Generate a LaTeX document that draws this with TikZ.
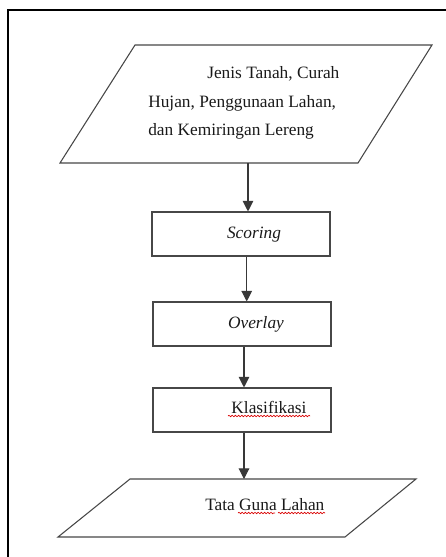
\documentclass[tikz,border=0pt]{standalone}
\usepackage{fontspec}
\setmainfont{Liberation Serif}
\usetikzlibrary{arrows.meta,decorations.pathmorphing}
\begin{document}
\begin{tikzpicture}[x=0.75pt,y=-0.75pt,
  shape line/.style={draw=black!72, line width=0.8pt},
  box/.style={shape line, rectangle, minimum width=133.5pt, minimum height=33pt, inner sep=0pt},
  lbl/.style={text=black!90, font=\fontsize{13}{15}\selectfont, inner sep=0pt, anchor=base},
  lblw/.style={lbl, anchor=base west},
  flow/.style={draw=black!78, line width=0.8pt, -{Triangle[width=8pt,length=8pt]}},
  spell/.style={draw=red!85!black, line width=0.5pt, decorate,
    decoration={snake, amplitude=0.55pt, segment length=2.4pt}},
  frame/.style={draw=black, line width=1.6pt}]
\useasboundingbox (0,0) rectangle (446,557);
% outer frame
\draw[frame] (8,557) -- (8,10) -- (446,10);
% input parallelogram
\draw[shape line] (135,45) -- (432,45) -- (358,163) -- (60,163) -- cycle;
\coordinate (inS) at (248,163);
\node[lblw] (t1) at (207,78) {Jenis Tanah, Curah};
\node[lblw] (t2) at (148,107) {Hujan, Penggunaan Lahan,};
\node[lblw] (t3) at (148,135) {dan Kemiringan Lereng};
% boxes
\node[box] (sc) at (241,234) {};
\node[lbl] (scT) at (254,238) {\itshape Scoring};
\node[box] (ov) at (242,324) {};
\node[lbl] (ovT) at (256,328) {\itshape Overlay};
\node[box] (kl) at (242,410) {};
\node[lbl] (klT) at (269,413) {Klasifikasi};
% output parallelogram
\draw[shape line] (130,479) -- (416,479) -- (345,537) -- (58,537) -- cycle;
\coordinate (outN) at (244,479);
\node[lblw] (o1) at (205,510) {Tata Guna Lahan};
% spell-check marks
\draw[spell] (228,416) -- (310,416);
\draw[spell] (238,513) -- (275,513);
\draw[spell] (278,513) -- (325,513);
% connectors
\draw[flow] (inS) -- (inS |- sc.north);
\draw[flow] ([xshift=4.3pt]sc.south) -- ([xshift=4.3pt]sc.south |- ov.north);
\draw[flow] ([xshift=1.5pt]ov.south) -- ([xshift=1.5pt]ov.south |- kl.north);
\draw[flow] ([xshift=1.5pt]kl.south) -- (outN);
\end{tikzpicture}
\end{document}
